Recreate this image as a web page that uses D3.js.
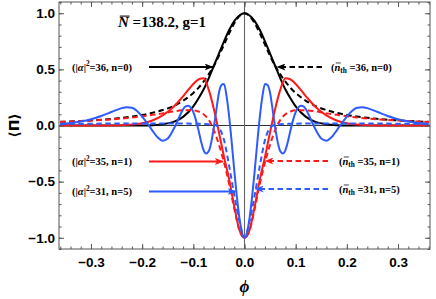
<!DOCTYPE html>
<html>
<head>
<meta charset="utf-8">
<script src="https://cdn.jsdelivr.net/npm/d3@7"></script>
<style>
  body { margin: 0; background: #fff; }
  svg { display: block; }
</style>
</head>
<body>
<svg id="chart" width="436" height="299"></svg>
<script>
// phase grid shared by most curves
var phiGrid = [-0.36,-0.34,-0.32,-0.30,-0.28,-0.26,-0.24,-0.22,-0.20,-0.18,-0.16,-0.14,-0.12,-0.10,-0.09,-0.08,-0.07,-0.06,-0.05,-0.04,-0.03,-0.02,-0.01,
  0,0.01,0.02,0.03,0.04,0.05,0.06,0.07,0.08,0.09,0.10,0.12,0.14,0.16,0.18,0.20,0.22,0.24,0.26,0.28,0.30,0.32,0.34,0.36];

var blackSolid = [0,0,0,0,0,0,0,0,0,0.003,0.011,0.03,0.077,0.17,0.24,0.32,0.42,0.53,0.64,0.75,0.85,0.93,0.98,
  1,0.98,0.93,0.85,0.75,0.64,0.53,0.42,0.32,0.24,0.17,0.077,0.03,0.011,0.003,0,0,0,0,0,0,0,0,0];

var blackDashed = [0.033,0.036,0.04,0.045,0.051,0.059,0.068,0.08,0.094,0.113,0.138,0.17,0.22,0.29,0.335,0.39,0.455,0.53,0.62,0.72,0.82,0.91,0.975,
  1,0.975,0.91,0.82,0.72,0.62,0.53,0.455,0.39,0.335,0.29,0.22,0.17,0.138,0.113,0.094,0.08,0.068,0.059,0.051,0.045,0.04,0.036,0.033];

var redSolid = [0,0,0,0,0,0,0.003,0.008,0.02,0.045,0.09,0.16,0.26,0.37,0.41,0.42,0.32,0.15,-0.06,-0.28,-0.48,-0.72,-0.93,
  -1,-0.93,-0.72,-0.48,-0.28,-0.06,0.15,0.32,0.42,0.41,0.37,0.26,0.16,0.09,0.045,0.02,0.008,0.003,0,0,0,0,0,0];

var redDashed = [0.031,0.035,0.039,0.044,0.049,0.055,0.062,0.071,0.082,0.095,0.108,0.125,0.135,0.135,0.125,0.10,0.05,-0.04,-0.17,-0.33,-0.52,-0.74,-0.93,
  -1,-0.93,-0.74,-0.52,-0.33,-0.17,-0.04,0.05,0.10,0.125,0.135,0.135,0.125,0.108,0.095,0.082,0.071,0.062,0.055,0.049,0.044,0.039,0.035,0.031];

var blueDashed = [0.014,0.015,0.016,0.016,0.017,0.017,0.017,0.017,0.017,0.017,0.017,0.017,0.017,0.016,0.015,0.014,0.012,0.008,-0.02,-0.13,-0.36,-0.62,-0.85,
  -1,-0.85,-0.62,-0.36,-0.13,-0.02,0.008,0.012,0.014,0.015,0.016,0.017,0.017,0.017,0.017,0.017,0.017,0.017,0.017,0.017,0.016,0.016,0.015,0.014];

// the oscillating curve needs a finer grid
var phiBlue = [-0.36,-0.34,-0.32,-0.30,-0.28,-0.26,-0.24,-0.23,-0.22,-0.21,-0.20,-0.19,-0.18,-0.17,-0.16,-0.15,
  -0.14,-0.135,-0.13,-0.125,-0.12,-0.115,-0.11,-0.105,-0.10,-0.095,-0.09,-0.085,-0.08,-0.075,-0.07,-0.065,-0.06,-0.055,-0.05,-0.045,-0.04,-0.035,-0.03,-0.025,-0.02,-0.015,-0.01,-0.005,
  0,0.005,0.01,0.015,0.02,0.025,0.03,0.035,0.04,0.045,0.05,0.055,0.06,0.065,0.07,0.075,0.08,0.085,0.09,0.095,0.10,0.105,0.11,0.115,0.12,0.125,0.13,0.135,0.14,
  0.15,0.16,0.17,0.18,0.19,0.20,0.21,0.22,0.23,0.24,0.26,0.28,0.30,0.32,0.34,0.36];

var blueSolid = [0.014,0.022,0.035,0.055,0.085,0.12,0.155,0.163,0.158,0.13,0.08,0.02,-0.045,-0.105,-0.135,-0.115,
  -0.045,0.0,0.05,0.1,0.145,0.17,0.175,0.16,0.12,0.05,-0.04,-0.14,-0.22,-0.25,-0.23,-0.15,-0.02,0.14,0.29,0.36,0.37,0.26,0.08,-0.15,-0.4,-0.63,-0.82,-0.95,
  -1,-0.95,-0.82,-0.63,-0.4,-0.15,0.08,0.26,0.37,0.36,0.29,0.14,-0.02,-0.15,-0.23,-0.25,-0.22,-0.14,-0.04,0.05,0.12,0.16,0.175,0.17,0.145,0.1,0.05,0.0,-0.045,
  -0.115,-0.135,-0.105,-0.045,0.02,0.08,0.13,0.158,0.163,0.155,0.12,0.085,0.055,0.035,0.022,0.014];

var xTicks = [-0.3,-0.2,-0.1,0,0.1,0.2,0.3];
var yTicks = [-1,-0.5,0,0.5,1];

var RED = "#ff1a1a", BLUE = "#2d5bff";

var svg = d3.select("#chart"),
    margin = {top: 2, right: 6, bottom: 50, left: 59},
    width = +svg.attr("width") - margin.left - margin.right,
    height = +svg.attr("height") - margin.top - margin.bottom,
    g = svg.append("g").attr("transform", "translate(" + margin.left + "," + margin.top + ")");

var x = d3.scaleLinear().domain([-0.3625, 0.3625]).range([0, width]);
var y = d3.scaleLinear().domain([-1.1, 1.1]).range([height, 0]);

var xMinor = d3.range(-36, 37, 2).map(function(d) { return d / 100; });
var yMinor = d3.range(-11, 12).map(function(d) { return d / 10; });
var fmt = d3.format(".1f");

// zero lines
g.append("line").attr("x1", 0).attr("x2", width).attr("y1", y(0)).attr("y2", y(0))
    .attr("stroke", "#333").attr("stroke-width", 1.1);
g.append("line").attr("x1", x(0)).attr("x2", x(0)).attr("y1", 0).attr("y2", height)
    .attr("stroke", "#666").attr("stroke-width", 1.1);

svg.append("defs").append("clipPath").attr("id", "clip")
  .append("rect").attr("width", width).attr("height", height);

var line = d3.line()
    .x(function(d) { return x(d[0]); })
    .y(function(d) { return y(d[1]); })
    .curve(d3.curveMonotoneX);

var series = [
  {phi: phiGrid, v: blackDashed, color: "#000", dash: "5.5,3.5"},
  {phi: phiGrid, v: blackSolid,  color: "#000", dash: null},
  {phi: phiGrid, v: redDashed,   color: RED,    dash: "5.5,3.5"},
  {phi: phiGrid, v: redSolid,    color: RED,    dash: null},
  {phi: phiGrid, v: blueDashed,  color: BLUE,   dash: "5.5,3.5"},
  {phi: phiBlue, v: blueSolid,   color: BLUE,   dash: null}
];

var curves = g.append("g").attr("clip-path", "url(#clip)");
series.forEach(function(s) {
  curves.append("path")
      .datum(s.phi.map(function(p, i) { return [p, s.v[i]]; }))
      .attr("fill", "none")
      .attr("stroke", s.color)
      .attr("stroke-width", 2)
      .attr("stroke-dasharray", s.dash)
      .attr("d", line);
});

// frame with inward ticks on all four sides
function styleAxis(a) {
  a.select(".domain").remove();
  a.selectAll(".tick line").attr("stroke", "#555").attr("stroke-width", 1);
  a.selectAll(".tick text").attr("fill", "#000")
    .attr("font-family", "Liberation Sans, Arial, sans-serif")
    .attr("font-weight", "bold").attr("font-size", "13.5px");
}
g.append("g").attr("transform", "translate(0," + height + ")")
    .call(d3.axisBottom(x).tickValues(xMinor).tickSize(-2.5).tickFormat("")).call(styleAxis);
g.append("g").attr("transform", "translate(0," + height + ")")
    .call(d3.axisBottom(x).tickValues(xTicks).tickSize(-5).tickPadding(8).tickFormat(fmt)).call(styleAxis);
g.append("g").call(d3.axisTop(x).tickValues(xMinor).tickSize(-2.5).tickFormat("")).call(styleAxis);
g.append("g").call(d3.axisTop(x).tickValues(xTicks).tickSize(-5).tickFormat("")).call(styleAxis);
g.append("g").call(d3.axisLeft(y).tickValues(yMinor).tickSize(-2.5).tickFormat("")).call(styleAxis);
g.append("g").call(d3.axisLeft(y).tickValues(yTicks).tickSize(-5).tickPadding(4).tickFormat(fmt)).call(styleAxis);
g.append("g").attr("transform", "translate(" + width + ",0)")
    .call(d3.axisRight(y).tickValues(yMinor).tickSize(-2.5).tickFormat("")).call(styleAxis);
g.append("g").attr("transform", "translate(" + width + ",0)")
    .call(d3.axisRight(y).tickValues(yTicks).tickSize(-5).tickFormat("")).call(styleAxis);

g.append("rect").attr("width", width).attr("height", height)
    .attr("fill", "none").attr("stroke", "#555").attr("stroke-width", 1);

// axis titles
svg.append("text")
    .attr("transform", "translate(19," + (margin.top + y(0)) + ") rotate(-90)")
    .attr("text-anchor", "middle")
    .attr("font-family", "DejaVu Sans, sans-serif").attr("font-weight", "bold").attr("font-size", "14px")
    .text("\u27E8\u03A0\u27E9");
svg.append("text")
    .attr("x", margin.left + x(0)).attr("y", 292)
    .attr("text-anchor", "middle")
    .attr("font-family", "Liberation Serif, serif").attr("font-weight", "bold").attr("font-style", "italic")
    .attr("font-size", "17px")
    .text("\u03D5");

// rich text helper: parts are strings or {t, it, sup, sub, bar}
function richText(px, py, size, parts) {
  var t = svg.append("text").attr("x", px).attr("y", py)
      .attr("font-family", "Liberation Serif, Times New Roman, serif")
      .attr("font-weight", "bold").attr("font-size", size + "px");
  var shift = 0, idx = 0, bars = [];
  parts.forEach(function(p) {
    if (typeof p === "string") p = {t: p};
    var dy = 0, fs = size;
    if (p.sup) { dy = -size * 0.4; fs = size * 0.7; }
    if (p.sub) { dy = size * 0.25; fs = size * 0.7; }
    var ts = t.append("tspan").attr("dy", (dy - shift).toFixed(2)).attr("font-size", fs + "px").text(p.t);
    if (p.it) ts.attr("font-style", "italic");
    if (p.bar) bars.push(idx);
    shift = dy;
    idx += p.t.length;
  });
  bars.forEach(function(i) {
    var e = t.node().getExtentOfChar(i);
    svg.append("line")
        .attr("x1", e.x + size * 0.12).attr("x2", e.x + e.width + size * 0.05)
        .attr("y1", e.y + size * 0.14).attr("y2", e.y + size * 0.14)
        .attr("stroke", "#000").attr("stroke-width", size * 0.07);
  });
  return t;
}

richText(118, 27, 15, [{t: "N", it: true, bar: true}, " =138.2, g=1"]);

var leftLabels = [
  {y: 67,  a: "36", n: "0", tip: -0.0625, color: "#000"},
  {y: 161.5, a: "35", n: "1", tip: -0.0425, color: RED},
  {y: 191.5, a: "31", n: "5", tip: -0.0175, color: BLUE}
];
var rightLabels = [
  {y: 67,  a: "36", n: "0", tip: 0.0645, color: "#000"},
  {y: 161, a: "35", n: "1", tip: 0.041, color: RED},
  {y: 189, a: "31", n: "5", tip: 0.022, color: BLUE}
];

var defs = svg.select("defs");
function arrowMarker(id, color) {
  defs.append("marker").attr("id", id)
      .attr("viewBox", "0 0 10 8").attr("refX", 9).attr("refY", 4)
      .attr("markerUnits", "userSpaceOnUse").attr("markerWidth", 9).attr("markerHeight", 7)
      .attr("orient", "auto")
    .append("path").attr("d", "M0,0L10,4L0,8L2.5,4Z").attr("fill", color);
}
arrowMarker("ah-k", "#000");
arrowMarker("ah-r", RED);
arrowMarker("ah-b", BLUE);
function markerFor(c) { return c === RED ? "url(#ah-r)" : c === BLUE ? "url(#ah-b)" : "url(#ah-k)"; }

leftLabels.forEach(function(d) {
  richText(72, d.y + 3.5, 10.5, ["(|", {t: "\u03B1", it: true}, "|", {t: "2", sup: true}, "=" + d.a + ", n=" + d.n + ")"]);
  svg.append("line")
      .attr("x1", 149).attr("x2", margin.left + x(d.tip))
      .attr("y1", d.y).attr("y2", d.y)
      .attr("stroke", d.color).attr("stroke-width", 1.8)
      .attr("marker-end", markerFor(d.color));
});
rightLabels.forEach(function(d, i) {
  richText(i === 0 ? 331 : 339, d.y + 3.5, 10.5, ["(", {t: "n", it: true, bar: true}, {t: "th", sub: true}, " =" + d.a + ", n=" + d.n + ")"]);
  svg.append("line")
      .attr("x1", i === 0 ? 322 : 328).attr("x2", margin.left + x(d.tip))
      .attr("y1", d.y).attr("y2", d.y)
      .attr("stroke", d.color).attr("stroke-width", 1.8)
      .attr("stroke-dasharray", "5.5,3.5")
      .attr("marker-end", markerFor(d.color));
});
</script>
</body>
</html>
